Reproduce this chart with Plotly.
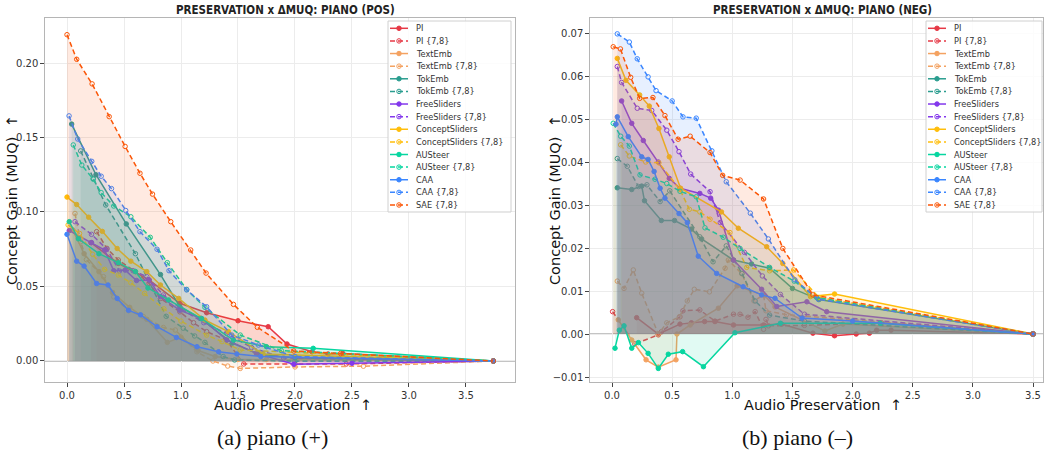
import plotly.graph_objects as go

# ---------------- series meta ----------------
series_names = ["PI", "PI {7,8}", "TextEmb", "TextEmb {7,8}", "TokEmb", "TokEmb {7,8}",
                "FreeSliders", "FreeSliders {7,8}", "ConceptSliders", "ConceptSliders {7,8}",
                "AUSteer", "AUSteer {7,8}", "CAA", "CAA {7,8}", "SAE {7,8}"]
series_colors = ["#e63946", "#e63946", "#f4a261", "#f4a261", "#2a9d8f", "#2a9d8f",
                 "#8338ec", "#8338ec", "#ffbe0b", "#ffbe0b", "#06d6a0", "#06d6a0",
                 "#3a86ff", "#3a86ff", "#fb5607"]
series_dashed = [False, True, False, True, False, True, False, True, False, True,
                 False, True, False, True, True]

# ---------------- panel (a): piano (+) ----------------
pos_PI_x = [0.21, 0.45, 0.72, 0.99, 1.225, 1.50, 1.765, 1.93, 2.15, 2.29, 2.42, 3.74]
pos_PI_y = [0.0794, 0.0655, 0.0544, 0.0387, 0.0324, 0.027, 0.023, 0.0114, 0.0062, 0.0047, 0.005, 0.0]
pos_PI78_x = [0.26, 0.35, 0.45, 0.60, 0.72, 0.82, 0.99, 1.11, 1.225, 1.40, 1.55, 2.0, 2.45, 3.74]
pos_PI78_y = [0.0868, 0.0756, 0.0678, 0.060, 0.052, 0.042, 0.033, 0.0257, 0.0197, 0.014, -0.002, -0.002, -0.002, 0.0]
pos_TextEmb_x = [0.05, 0.15, 0.28, 0.40, 0.55, 0.70, 0.88, 1.0, 1.15, 1.30, 1.50, 1.75, 3.74]
pos_TextEmb_y = [0.088, 0.072, 0.060, 0.046, 0.036, 0.028, 0.0125, 0.016, 0.007, 0.003, 0.001, 0.001, 0.0]
pos_TextEmb78_x = [0.07, 0.12, 0.17, 0.32, 0.41, 0.54, 0.67, 0.845, 0.95, 1.14, 1.28, 1.41, 1.52, 2.0, 2.6, 3.74]
pos_TextEmb78_y = [0.099, 0.080, 0.068, 0.0566, 0.043, 0.0338, 0.0298, 0.0225, 0.0208, 0.0062, 0.0, -0.0034, -0.005, -0.004, -0.0035, 0.0]
pos_TokEmb_x = [0.041, 0.254, 0.52, 0.82, 0.99, 1.17, 1.45, 1.68, 2.0, 3.74]
pos_TokEmb_y = [0.159, 0.125, 0.092, 0.058, 0.0364, 0.0285, 0.012, 0.0047, 0.002, 0.0]
pos_TokEmb78_x = [0.12, 0.23, 0.34, 0.60, 0.87, 1.02, 1.12, 1.21, 1.37, 1.47, 2.0, 3.74]
pos_TokEmb78_y = [0.141, 0.1225, 0.1047, 0.072, 0.030, 0.022, 0.0168, 0.0125, 0.003, 0.0007, 0.0, 0.0]
pos_Free_x = [0.02, 0.215, 0.33, 0.41, 0.51, 0.61, 0.72, 0.82, 0.99, 1.18, 1.40, 1.66, 1.99, 2.5, 3.74]
pos_Free_y = [0.0875, 0.0795, 0.0745, 0.0606, 0.061, 0.054, 0.0544, 0.0432, 0.034, 0.0285, 0.0141, 0.0052, -0.0022, -0.0015, 0.0]
pos_Free78_x = [0.07, 0.215, 0.35, 0.46, 0.58, 0.70, 0.845, 1.0, 1.2, 1.40, 1.62, 1.9, 3.74]
pos_Free78_y = [0.0935, 0.085, 0.075, 0.0604, 0.0606, 0.0566, 0.0443, 0.035, 0.0257, 0.0185, 0.009, 0.002, 0.0]
pos_Concept_x = [0.0, 0.085, 0.19, 0.31, 0.44, 0.56, 0.70, 0.82, 0.98, 1.21, 1.415, 1.72, 3.74]
pos_Concept_y = [0.110, 0.105, 0.0965, 0.087, 0.0755, 0.067, 0.060, 0.051, 0.042, 0.0275, 0.0197, 0.0047, 0.0]
pos_Concept78_x = [0.01, 0.11, 0.225, 0.33, 0.45, 0.56, 0.68, 0.85, 1.0, 1.225, 1.36, 1.52, 3.74]
pos_Concept78_y = [0.0913, 0.0856, 0.0716, 0.0615, 0.0577, 0.0525, 0.0454, 0.035, 0.0268, 0.0174, 0.013, 0.0074, 0.0]
pos_AU_x = [0.02, 0.10, 0.28, 0.45, 0.60, 0.71, 0.89, 1.18, 1.46, 1.75, 2.16, 3.74]
pos_AU_y = [0.0935, 0.082, 0.072, 0.066, 0.060, 0.049, 0.041, 0.0285, 0.014, 0.0096, 0.0085, 0.0]
pos_AU78_x = [0.055, 0.13, 0.23, 0.30, 0.41, 0.56, 0.73, 0.88, 1.05, 1.21, 1.52, 1.88, 3.74]
pos_AU78_y = [0.145, 0.1315, 0.122, 0.113, 0.104, 0.0968, 0.083, 0.066, 0.048, 0.036, 0.0174, 0.007, 0.0]
pos_CAA_x = [0.0, 0.085, 0.15, 0.26, 0.36, 0.44, 0.54, 0.645, 0.79, 0.96, 1.14, 1.33, 1.49, 1.7, 3.74]
pos_CAA_y = [0.085, 0.067, 0.0637, 0.052, 0.051, 0.042, 0.034, 0.031, 0.023, 0.0158, 0.0096, 0.0062, 0.0047, 0.003, 0.0]
pos_CAA78_x = [0.018, 0.094, 0.217, 0.30, 0.39, 0.515, 0.64, 0.79, 0.895, 1.05, 1.225, 1.445, 1.68, 2.0, 3.74]
pos_CAA78_y = [0.1645, 0.149, 0.134, 0.124, 0.1157, 0.101, 0.0868, 0.075, 0.0606, 0.0477, 0.0364, 0.0174, 0.0107, 0.003, 0.0]
pos_SAE78_x = [0.0, 0.085, 0.22, 0.37, 0.51, 0.64, 0.75, 0.91, 1.085, 1.22, 1.46, 1.67, 1.99, 2.4, 3.74]
pos_SAE78_y = [0.219, 0.2025, 0.186, 0.164, 0.144, 0.126, 0.112, 0.0935, 0.0745, 0.059, 0.038, 0.0226, 0.0067, 0.005, 0.0]

# ---------------- panel (b): piano (-) ----------------
neg_PI_x = [0.205, 0.385, 0.565, 0.66, 0.77, 0.856, 1.01, 1.26, 1.41, 1.67, 1.85, 2.03, 2.14, 2.20, 2.32, 3.5]
neg_PI_y = [0.0038, 0.0, 0.0023, 0.0026, 0.0029, 0.0029, 0.0021, 0.0021, 0.0023, 0.0002, -0.0004, 0.0, 0.0002, 0.0009, 0.0009, 0.0]
neg_PI78_x = [0.005, 0.19, 0.385, 0.41, 0.565, 0.59, 0.73, 0.856, 1.01, 1.064, 1.13, 1.19, 1.26, 1.28, 1.30, 1.6, 2.24, 3.5]
neg_PI78_y = [0.0052, -0.0023, -0.0002, 0.0005, 0.004, 0.0054, 0.0056, 0.003, 0.0046, 0.0046, 0.0039, 0.0052, 0.0011, 0.0034, 0.0019, 0.002, 0.0026, 0.0]
neg_TextEmb_x = [0.052, 0.164, 0.283, 0.385, 0.532, 0.54, 0.65, 0.884, 1.04, 1.27, 1.355, 1.77, 1.92, 3.5]
neg_TextEmb_y = [0.0033, -0.0014, -0.006, -0.0077, -0.006, 0.0, 0.0021, 0.006, 0.0112, 0.0089, 0.0063, 0.0007, 0.0023, 0.0]
neg_TextEmb78_x = [0.044, 0.10, 0.177, 0.247, 0.385, 0.455, 0.56, 0.626, 0.684, 0.81, 0.94, 0.967, 1.08, 1.18, 1.26, 1.28, 1.45, 3.5]
neg_TextEmb78_y = [0.0123, 0.0106, 0.0149, 0.0095, 0.0, 0.0026, 0.004, 0.0077, 0.0104, 0.0098, 0.0153, 0.0172, 0.014, 0.0077, 0.0091, 0.0054, 0.0045, 0.0]
neg_TokEmb_x = [0.044, 0.164, 0.247, 0.27, 0.41, 0.52, 0.66, 0.745, 1.01, 1.16, 1.31, 1.50, 1.72, 3.5]
neg_TokEmb_y = [0.034, 0.0336, 0.0344, 0.031, 0.0264, 0.0264, 0.0244, 0.0221, 0.0172, 0.0163, 0.0153, 0.0106, 0.008, 0.0]
neg_TokEmb78_x = [0.044, 0.127, 0.22, 0.29, 0.40, 0.48, 0.73, 0.84, 0.95, 1.08, 1.19, 1.31, 1.6, 3.5]
neg_TokEmb78_y = [0.0408, 0.039, 0.0343, 0.0347, 0.0308, 0.0333, 0.0226, 0.0168, 0.0205, 0.0141, 0.0077, 0.0044, 0.003, 0.0]
neg_Free_x = [0.08, 0.164, 0.26, 0.385, 0.476, 0.565, 0.73, 0.82, 0.885, 1.01, 1.244, 1.37, 1.62, 1.785, 3.5]
neg_Free_y = [0.0542, 0.049, 0.045, 0.040, 0.0362, 0.0339, 0.0327, 0.0316, 0.0288, 0.0172, 0.0104, 0.0064, 0.0075, 0.0052, 0.0]
neg_Free78_x = [0.044, 0.08, 0.21, 0.33, 0.455, 0.557, 0.654, 0.815, 0.90, 1.10, 1.25, 1.40, 1.60, 3.5]
neg_Free78_y = [0.0622, 0.0585, 0.0525, 0.052, 0.0474, 0.0424, 0.0372, 0.0331, 0.0259, 0.019, 0.0135, 0.0092, 0.0046, 0.0]
neg_Concept_x = [0.044, 0.116, 0.23, 0.31, 0.39, 0.476, 0.57, 0.91, 1.05, 1.286, 1.42, 1.65, 1.85, 3.5]
neg_Concept_y = [0.0641, 0.059, 0.0556, 0.053, 0.0478, 0.0412, 0.0339, 0.0284, 0.0246, 0.0203, 0.0164, 0.0087, 0.0093, 0.0]
neg_Concept78_x = [0.072, 0.144, 0.28, 0.39, 0.565, 0.643, 0.73, 0.815, 0.98, 1.12, 1.31, 1.51, 1.72, 3.5]
neg_Concept78_y = [0.044, 0.0414, 0.040, 0.0398, 0.0336, 0.029, 0.0284, 0.0267, 0.0236, 0.0155, 0.0147, 0.0149, 0.0085, 0.0]
neg_AU_x = [0.025, 0.061, 0.10, 0.164, 0.219, 0.30, 0.385, 0.468, 0.587, 0.76, 1.022, 1.40, 2.23, 3.5]
neg_AU_y = [-0.0033, 0.0009, 0.0019, -0.0033, -0.002, -0.0045, -0.008, -0.0047, -0.0041, -0.0076, 0.0003, 0.0025, 0.0025, 0.0]
neg_AU78_x = [0.01, 0.072, 0.144, 0.233, 0.357, 0.455, 0.565, 0.70, 0.773, 0.925, 1.064, 1.31, 1.515, 1.7, 3.5]
neg_AU78_y = [0.049, 0.046, 0.0437, 0.037, 0.036, 0.035, 0.0332, 0.0319, 0.0247, 0.0225, 0.0199, 0.0155, 0.0123, 0.0085, 0.0]
neg_CAA_x = [0.033, 0.044, 0.135, 0.247, 0.30, 0.35, 0.40, 0.44, 0.557, 0.626, 0.717, 0.87, 1.09, 1.244, 1.355, 1.58, 2.0, 3.5]
neg_CAA_y = [0.0488, 0.0505, 0.0459, 0.0412, 0.0406, 0.0378, 0.0339, 0.0316, 0.028, 0.0259, 0.0181, 0.0141, 0.011, 0.0091, 0.0083, 0.0037, 0.003, 0.0]
neg_CAA78_x = [0.044, 0.144, 0.21, 0.30, 0.366, 0.50, 0.59, 0.70, 0.83, 0.95, 1.15, 1.30, 1.52, 1.715, 3.5]
neg_CAA78_y = [0.0698, 0.0679, 0.064, 0.0598, 0.0566, 0.0542, 0.0505, 0.0502, 0.0426, 0.0354, 0.0281, 0.0221, 0.0126, 0.0081, 0.0]
neg_SAE78_x = [0.01, 0.07, 0.155, 0.23, 0.34, 0.44, 0.55, 0.65, 0.815, 0.92, 1.065, 1.26, 1.42, 1.67, 3.5]
neg_SAE78_y = [0.0668, 0.0663, 0.0597, 0.0548, 0.055, 0.0508, 0.0453, 0.046, 0.0422, 0.0369, 0.0358, 0.0314, 0.0199, 0.0091, 0.0]

pos_series = [(pos_PI_x, pos_PI_y), (pos_PI78_x, pos_PI78_y), (pos_TextEmb_x, pos_TextEmb_y),
              (pos_TextEmb78_x, pos_TextEmb78_y), (pos_TokEmb_x, pos_TokEmb_y), (pos_TokEmb78_x, pos_TokEmb78_y),
              (pos_Free_x, pos_Free_y), (pos_Free78_x, pos_Free78_y), (pos_Concept_x, pos_Concept_y),
              (pos_Concept78_x, pos_Concept78_y), (pos_AU_x, pos_AU_y), (pos_AU78_x, pos_AU78_y),
              (pos_CAA_x, pos_CAA_y), (pos_CAA78_x, pos_CAA78_y), (pos_SAE78_x, pos_SAE78_y)]
neg_series = [(neg_PI_x, neg_PI_y), (neg_PI78_x, neg_PI78_y), (neg_TextEmb_x, neg_TextEmb_y),
              (neg_TextEmb78_x, neg_TextEmb78_y), (neg_TokEmb_x, neg_TokEmb_y), (neg_TokEmb78_x, neg_TokEmb78_y),
              (neg_Free_x, neg_Free_y), (neg_Free78_x, neg_Free78_y), (neg_Concept_x, neg_Concept_y),
              (neg_Concept78_x, neg_Concept78_y), (neg_AU_x, neg_AU_y), (neg_AU78_x, neg_AU78_y),
              (neg_CAA_x, neg_CAA_y), (neg_CAA78_x, neg_CAA78_y), (neg_SAE78_x, neg_SAE78_y)]

W, H = 1045, 460


def rgba(hexc, a):
    h = hexc.lstrip("#")
    return "rgba(%d,%d,%d,%.3f)" % (int(h[0:2], 16), int(h[2:4], 16), int(h[4:6], 16), a)


fig = go.Figure()

for panel, (series, xa, ya) in enumerate([(pos_series, "x", "y"), (neg_series, "x2", "y2")]):
    for i, (sx, sy) in enumerate(series):
        c = series_colors[i]
        dashed = series_dashed[i]
        fig.add_trace(go.Scatter(
            x=sx, y=sy, xaxis=xa, yaxis=ya, mode="lines+markers",
            line=dict(color=c, width=1.5, dash="5px,3px" if dashed else "solid"),
            marker=dict(symbol="circle-open" if dashed else "circle", size=4.5,
                        color=c, line=dict(color=c, width=1.0)),
            fill="tozeroy", fillcolor=rgba(c, 0.12), showlegend=False, name=series_names[i],
        ))

# ---------------- manual legends (pixel coordinate overlay axis) ----------------
legend_boxes = [(388, 511), (926, 1042)]
row0, rowstep = 28.3, 12.62
for (bx0, bx1) in legend_boxes:
    by0, by1 = 21, 212
    fig.add_trace(go.Scatter(
        x=[bx0, bx1, bx1, bx0, bx0], y=[by0, by0, by1, by1, by0], xaxis="x3", yaxis="y3",
        mode="lines", fill="toself", fillcolor="rgba(255,255,255,0.85)",
        line=dict(color="#d0d0d0", width=1), showlegend=False, hoverinfo="skip"))
    for i, nm in enumerate(series_names):
        yc = row0 + i * rowstep
        c = series_colors[i]
        dashed = series_dashed[i]
        fig.add_trace(go.Scatter(
            x=[bx0 + 2, bx0 + 20], y=[yc, yc], xaxis="x3", yaxis="y3", mode="lines",
            line=dict(color=c, width=1.5, dash="5px,3px" if dashed else "solid"),
            showlegend=False, hoverinfo="skip"))
        fig.add_trace(go.Scatter(
            x=[bx0 + 11], y=[yc], xaxis="x3", yaxis="y3", mode="markers",
            marker=dict(symbol="circle-open" if dashed else "circle", size=4.5,
                        color=c, line=dict(color=c, width=1.0)),
            showlegend=False, hoverinfo="skip"))
        fig.add_annotation(x=bx0 + 26, y=yc, xref="x3", yref="y3", text=nm, showarrow=False,
                           xanchor="left", yanchor="middle",
                           font=dict(family="DejaVu Sans", size=8.2, color="#333333"))

axis_common = dict(showgrid=True, gridcolor="#ececec", gridwidth=1, showline=True, linecolor="#b5b5b5",
                   linewidth=1.2, mirror=True, ticks="outside", ticklen=3.5, tickcolor="#444444",
                   tickfont=dict(family="DejaVu Sans", size=10, color="#333333"),
                   zeroline=False, automargin=False)

# left panel: px 45..515, right panel: px 590..1043 ; vertical px 18..382
ydom = [(H - 382) / H, (H - 18) / H]
fig.update_layout(
    width=W, height=H, margin=dict(l=0, r=0, t=0, b=0, autoexpand=False),
    paper_bgcolor="white", plot_bgcolor="rgba(0,0,0,0)",
    xaxis=dict(domain=[45 / W, 515 / W], range=[-0.193, 3.93], tickvals=[0, 0.5, 1, 1.5, 2, 2.5, 3, 3.5],
               ticktext=["0.0", "0.5", "1.0", "1.5", "2.0", "2.5", "3.0", "3.5"], anchor="y", **axis_common),
    yaxis=dict(domain=ydom, range=[-0.0141, 0.2302], tickvals=[0, 0.05, 0.1, 0.15, 0.2],
               ticktext=["0.00", "0.05", "0.10", "0.15", "0.20"], anchor="x", **axis_common),
    xaxis2=dict(domain=[590 / W, 1043 / W], range=[-0.183, 3.583], tickvals=[0, 0.5, 1, 1.5, 2, 2.5, 3, 3.5],
                ticktext=["0.0", "0.5", "1.0", "1.5", "2.0", "2.5", "3.0", "3.5"], anchor="y2", **axis_common),
    yaxis2=dict(domain=ydom, range=[-0.01116, 0.07349],
                tickvals=[-0.01, 0, 0.01, 0.02, 0.03, 0.04, 0.05, 0.06, 0.07],
                ticktext=["−0.01", "0.00", "0.01", "0.02", "0.03", "0.04", "0.05", "0.06", "0.07"],
                anchor="x2", **axis_common),
    xaxis3=dict(domain=[0, 1], range=[0, W], visible=False, anchor="y3", fixedrange=True),
    yaxis3=dict(domain=[0, 1], range=[H, 0], visible=False, anchor="x3", fixedrange=True),
)

# zero reference lines
for xr, yr in [("x domain", "y"), ("x2 domain", "y2")]:
    fig.add_shape(type="line", xref=xr, yref=yr, x0=0, x1=1, y0=0, y1=0,
                  line=dict(color="#8a8a8a", width=1.2), layer="below")

title_font = dict(family="DejaVu Sans Condensed, DejaVu Sans", size=11.5, color="#222222")
label_font = dict(family="DejaVu Sans", size=14.5, color="#111111")
cap_font = dict(family="Liberation Serif, Times New Roman, serif", size=22, color="#111111")

annos = [
    (285, 10, "<b>PRESERVATION x ΔMUQ: PIANO (POS)</b>", title_font, 0),
    (822, 10, "<b>PRESERVATION x ΔMUQ: PIANO (NEG)</b>", title_font, 0),
    (293, 405, "Audio Preservation  ↑", label_font, 0),
    (823, 405, "Audio Preservation  ↑", label_font, 0),
    (12, 200, "Concept Gain (MUQ)  ↑", label_font, -90),
    (555, 200, "Concept Gain (MUQ)  ↑", label_font, -90),
    (272, 437, "(a) piano (+)", cap_font, 0),
    (797, 437, "(b) piano (–)", cap_font, 0),
]
for (px, py, txt, fnt, ang) in annos:
    fig.add_annotation(x=px / W, y=1 - py / H, xref="paper", yref="paper", text=txt, showarrow=False,
                       xanchor="center", yanchor="middle", font=fnt, textangle=ang)

fig.write_html("out.html", config={"displayModeBar": False, "staticPlot": True},
               post_script="document.body.style.margin='0px';document.body.style.padding='0px';"
                           "document.body.style.overflow='hidden';")
